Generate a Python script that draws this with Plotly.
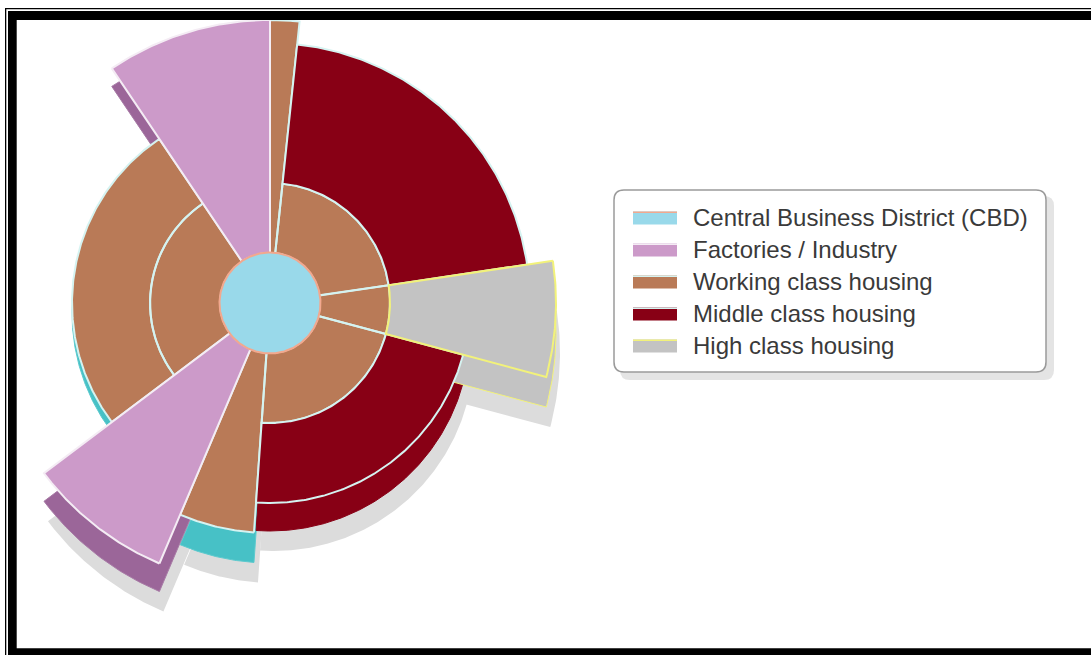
import numpy as np
import plotly.graph_objects as go

# ---- zones of the sector city model ---------------------------------------
zones = [
    "Central Business District (CBD)",
    "Factories / Industry",
    "Working class housing",
    "Middle class housing",
    "High class housing",
]

# each sector: zone, bearing range (deg, clockwise from north), radial extent
sector_zone = [
    "Central Business District (CBD)",
    "Working class housing",
    "Working class housing",
    "Middle class housing",
    "Working class housing",
    "High class housing",
    "Working class housing",
    "Middle class housing",
    "Working class housing",
    "Factories / Industry",
    "Working class housing",
    "Working class housing",
    "Factories / Industry",
]
sector_from = [0, 0, 6, 6, 81.5, 81.5, 105, 105, 184, 203, 233, 233, 326]
sector_to = [360, 6, 81.5, 81.5, 105, 105, 184, 184, 203, 233, 326, 326, 360]
sector_inner = [0, 5, 5, 12, 5, 12, 5, 12, 5, 5, 5, 12, 5]
sector_outer = [5.05, 28.3, 12, 26, 12, 28.6, 12, 20, 23, 28.3, 12, 19.8, 28.3]

# ---- styling ----------------------------------------------------------------
# extrusion height of each sector's block, in pixels
sector_depth = [28, 28, 28, 28, 28, 30, 28, 28, 30, 28, 10, 10, 18]

face_color = {
    zones[0]: "#99D9EA",
    zones[1]: "#CC9AC9",
    zones[2]: "#B97A57",
    zones[3]: "#880015",
    zones[4]: "#C3C3C3",
}
side_color = {
    zones[0]: "#6FBFD0",
    zones[1]: "#9B6699",
    zones[2]: "#47C1C6",
    zones[3]: "#880015",
    zones[4]: "#C3C3C3",
}
edge_color = {
    zones[0]: "#F2A88E",
    zones[1]: "#F4ECF4",
    zones[2]: "#D5F3F1",
    zones[3]: "#D5F3F1",
    zones[4]: "#F2F27A",
}
side_edge = {
    zones[0]: "#6FBFD0",
    zones[1]: "#A87BA6",
    zones[2]: "#5CCACE",
    zones[3]: "#880015",
    zones[4]: "#F2F27A",
}
shadow_color = "#DCDCDC"
draw_order = [zones[2], zones[3], zones[4], zones[1], zones[0]]

W, H = 1091, 655
CX, CY = 270, 303   # pixel centre of the model
U = 10              # pixels per radial unit


def fx(x):
    return x / W


def fy(y):
    return 1 - y / H


def sector_path(a0, a1, r0, r1, ox=0.0, oy=0.0):
    """Closed outline of an annular sector, bearings clockwise from north."""
    if a1 - a0 >= 360:
        t = np.radians(np.linspace(0, 360, 361))
        xs, ys = r1 * np.sin(t), r1 * np.cos(t)
    else:
        t = np.radians(np.linspace(a0, a1, int((a1 - a0) * 2) + 2))
        xs = np.concatenate([r1 * np.sin(t), r0 * np.sin(t[::-1])])
        ys = np.concatenate([r1 * np.cos(t), r0 * np.cos(t[::-1])])
        xs = np.append(xs, xs[0])
        ys = np.append(ys, ys[0])
    return list(xs + ox), list(ys + oy)


fig = go.Figure()


def add_layer(kind):
    for zone in draw_order:
        X, Y = [], []
        for i, z in enumerate(sector_zone):
            if z != zone:
                continue
            d = sector_depth[i]
            if kind == "face":
                ox, oy = 0.0, 0.0
            elif kind == "side":
                ox, oy = 0.0, -d / U
            else:
                if d < 25:
                    continue
                ox, oy = 4 / U, -(d + 20) / U
            xs, ys = sector_path(sector_from[i], sector_to[i],
                                 sector_inner[i], sector_outer[i], ox, oy)
            X += xs + [None]
            Y += ys + [None]
        if not X:
            continue
        if kind == "shadow":
            fill, line, lw = shadow_color, shadow_color, 0
        elif kind == "side":
            fill, line, lw = side_color[zone], side_edge[zone], 1
        else:
            fill, line, lw = face_color[zone], edge_color[zone], 2
        fig.add_trace(go.Scatter(
            x=X, y=Y, mode="lines", fill="toself", fillcolor=fill,
            line=dict(color=line, width=lw), name=zone,
            showlegend=False, hoverinfo="skip",
        ))


# ground shadow, extruded sides, then the top faces
for kind in ["shadow", "side", "face"]:
    add_layer(kind)

shapes = []
annotations = []


def rect(x0, y0, x1, y1, color, layer="above"):
    return dict(type="rect", xref="paper", yref="paper",
                x0=fx(x0), x1=fx(x1), y0=fy(y1), y1=fy(y0),
                fillcolor=color, line=dict(width=0), layer=layer)


def rounded(x0, y0, x1, y1, rad):
    pts = [
        f"M{fx(x0 + rad)},{fy(y0)}",
        f"L{fx(x1 - rad)},{fy(y0)}",
        f"Q{fx(x1)},{fy(y0)} {fx(x1)},{fy(y0 + rad)}",
        f"L{fx(x1)},{fy(y1 - rad)}",
        f"Q{fx(x1)},{fy(y1)} {fx(x1 - rad)},{fy(y1)}",
        f"L{fx(x0 + rad)},{fy(y1)}",
        f"Q{fx(x0)},{fy(y1)} {fx(x0)},{fy(y1 - rad)}",
        f"L{fx(x0)},{fy(y0 + rad)}",
        f"Q{fx(x0)},{fy(y0)} {fx(x0 + rad)},{fy(y0)}",
        "Z",
    ]
    return " ".join(pts)


# legend panel with soft drop shadow
shapes.append(dict(type="path", xref="paper", yref="paper",
                   path=rounded(620, 196, 1054, 380, 10),
                   fillcolor="#E4E4E4", line=dict(width=0), layer="above"))
shapes.append(dict(type="path", xref="paper", yref="paper",
                   path=rounded(614, 190, 1046, 372, 10),
                   fillcolor="white", line=dict(color="#9A9A9A", width=1.5), layer="above"))

for k, zone in enumerate(zones):
    yc = 218 + 32 * k
    shapes.append(rect(633, yc - 6.5, 677, yc + 6.5, face_color[zone]))
    shapes.append(rect(633, yc - 6.5, 677, yc - 5, edge_color[zone]))
    annotations.append(dict(
        xref="paper", yref="paper", x=fx(691), y=fy(yc - 1),
        xanchor="left", yanchor="middle", showarrow=False, text=zone,
        font=dict(family="Liberation Sans, Arial, sans-serif", size=24, color="#3A3A3A"),
    ))

# page frame
shapes += [
    rect(5, 8, 6.3, 655, "black"),
    rect(5, 8, 1091, 9.3, "black"),
    rect(8, 11, 16.7, 655, "black"),
    rect(8, 11, 1091, 20, "black"),
    rect(8, 648.3, 1091, 655, "black"),
]

fig.update_layout(
    width=W, height=H,
    margin=dict(l=0, r=0, t=0, b=0),
    template="none",
    paper_bgcolor="white",
    plot_bgcolor="white",
    showlegend=False,
    shapes=shapes,
    annotations=annotations,
    xaxis=dict(range=[(0 - CX) / U, (W - CX) / U], visible=False,
               showgrid=False, zeroline=False, domain=[0, 1]),
    yaxis=dict(range=[(CY - H) / U, CY / U], visible=False,
               showgrid=False, zeroline=False, domain=[0, 1]),
)

fig.write_html("out.html")
